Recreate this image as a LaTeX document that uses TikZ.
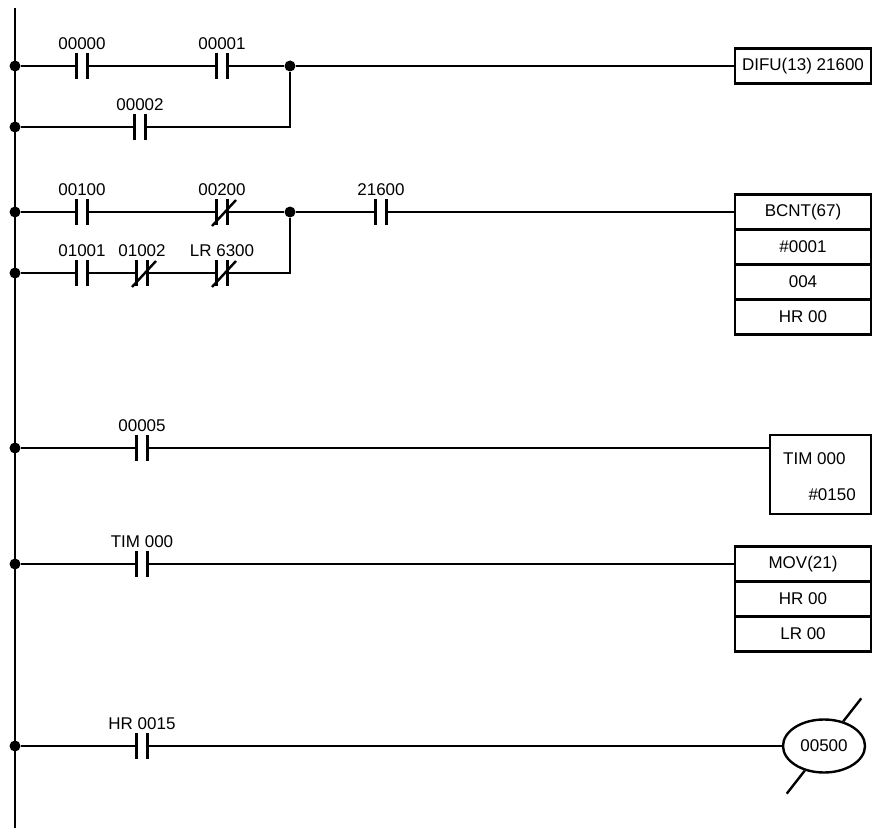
\documentclass[tikz,border=0pt]{standalone}
\usepackage{fontspec}
\setmainfont{Liberation Sans}
\usetikzlibrary{positioning}
\usetikzlibrary{shapes.geometric}

\begin{document}
\begin{tikzpicture}[x=1pt,y=-1pt,
    font=\fontsize{17}{20}\selectfont,
    wire/.style={line width=2.4pt},
    plate/.style={draw,line width=2.8pt},
    dot/.style={circle,fill,inner sep=0pt,minimum size=11pt},
    lbl/.style={inner sep=3pt},
    contact/.style={rectangle,inner sep=0pt,outer sep=0pt,minimum width=11pt,minimum height=26pt,
      label={[lbl]above:#1},
      append after command={(\tikzlastnode.north west) edge[plate] (\tikzlastnode.south west)
        (\tikzlastnode.north east) edge[plate] (\tikzlastnode.south east)}},
    ncontact/.style={contact=#1,
      append after command={([shift={(-10pt,-14pt)}]\tikzlastnode.center) edge[plate,line width=2.4pt] ([shift={(14pt,12pt)}]\tikzlastnode.center)}},
    fbox/.style={draw,line width=2.8pt,rectangle,inner sep=0pt,outer sep=0pt,minimum width=136pt,minimum height=35pt},
    coil/.style={draw,line width=2.4pt,ellipse,inner sep=0pt,minimum width=82pt,minimum height=53pt}]

    \useasboundingbox (0,0) rectangle (881,832);

    % power rail
    \coordinate (top) at (15,8);
    \coordinate (bot) at (15,828);
    \draw[line width=2.8pt] (top) -- (bot);
    \foreach \n/\y in {1/66,2/127,3/212,4/273,5/448,6/564,7/746}
      \node[dot] (r\n) at (15,\y) {};

    % rung 1: DIFU
    \node[contact=00000] (c00000) at (82,66) {};
    \node[contact=00001] (c00001) at (222,66) {};
    \node[dot] (j1) at (290,66) {};
    \node[fbox] (difu) at (803,66) {DIFU(13) 21600};
    \node[contact=00002] (c00002) at (140,127) {};
    \draw[wire] (r1) -- (c00000) -- (c00001) -- (j1) -- (difu);
    \draw[wire] (r2) -- (c00002) -| (j1);

    % rung 2: BCNT
    \node[contact=00100] (c00100) at (82,212) {};
    \node[ncontact=00200] (c00200) at (222,212) {};
    \node[dot] (j2) at (290,212) {};
    \node[contact=21600] (c21600) at (381,212) {};
    \node[fbox] (bcnt1) at (803,212) {BCNT(67)};
    \node[fbox,below=0pt of bcnt1] (bcnt2) {\#0001};
    \node[fbox,below=0pt of bcnt2] (bcnt3) {004};
    \node[fbox,below=0pt of bcnt3] (bcnt4) {HR 00};
    \node[contact=01001] (c01001) at (82,273) {};
    \node[ncontact=01002] (c01002) at (142,273) {};
    \node[ncontact=LR 6300] (clr6300) at (222,273) {};
    \draw[wire] (r3) -- (c00100) -- (c00200) -- (j2) -- (c21600) -- (bcnt1);
    \draw[wire] (r4) -- (c01001) -- (c01002) -- (clr6300) -| (j2);

    % rung 3: TIM
    \node[contact=00005] (c00005) at (142,448) {};
    \node[draw,line width=2.8pt,inner sep=0pt,outer sep=0pt,minimum width=101pt,minimum height=79pt] (tim) at (820.5,474.5) {};
    \node[anchor=base west,inner sep=0pt] (timno) at ([shift={(13pt,-29pt)}]tim.north west) {TIM 000};
    \node[anchor=base east,inner sep=0pt] (timset) at ([shift={(-15pt,14pt)}]tim.south east) {\#0150};
    \coordinate (timin) at (tim.west |- c00005);
    \draw[wire] (r5) -- (c00005) -- (timin);

    % rung 4: MOV
    \node[contact=TIM 000] (ctim) at (142,564) {};
    \node[fbox] (mov1) at (803,564) {MOV(21)};
    \node[fbox,below=0pt of mov1] (mov2) {HR 00};
    \node[fbox,below=0pt of mov2] (mov3) {LR 00};
    \draw[wire] (r6) -- (ctim) -- (mov1);

    % rung 5: output coil
    \node[contact=HR 0015] (chr) at (142,746) {};
    \node[coil] (out) at (824,746) {00500};
    \draw[wire] (r7) -- (chr) -- (out);
    \draw[wire] (out.52) -- ++(18,-23);
    \draw[wire] (out.232) -- ++(-18,23);
\end{tikzpicture}
\end{document}
